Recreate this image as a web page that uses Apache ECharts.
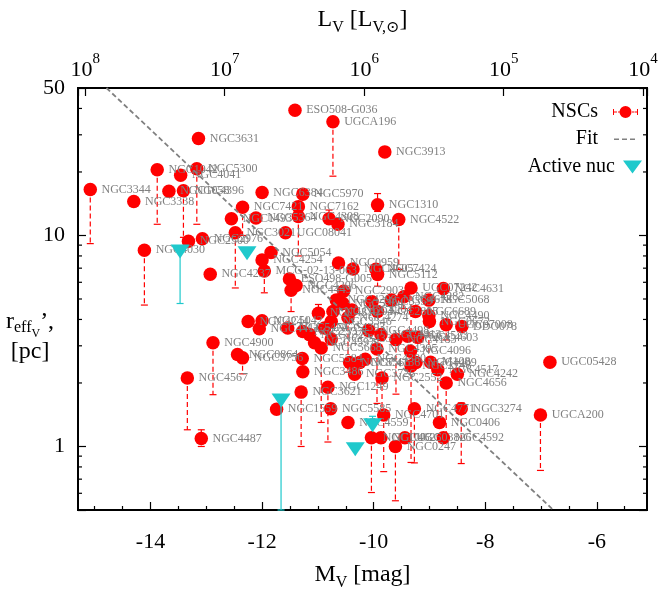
<!DOCTYPE html>
<html>
<head>
<meta charset="utf-8">
<script src="https://cdn.jsdelivr.net/npm/echarts@6/dist/echarts.min.js"></script>
<style>
html,body{margin:0;padding:0;background:#fff;}
#main{width:663px;height:596px;}
</style>
</head>
<body>
<div id="main"></div>
<script>
// NSC 数据: 名称, M_V, r_eff, 误差下限, 误差上限
var nscName = ['NGC3631','NGC1042','NGC5300','NGC4041','NGC3344','NGC1058','NGC4396','NGC3338','NGC6384','NGC7421',
    'NGC1493','NGC5364','NGC3021','ESO508-G036','UGCA196','NGC3913','NGC1310','NGC4522','NGC5970','NGC7162',
    'NGC4308','NGC2090','NGC3184','UGC08041','NGC2500','NGC2976','NGC4030','NGC4237','NGC4254','MCG-02-13-063',
    'NGC5054','NGC4244','NGC5042','NGC4411','NGC4900','NGC0864','NGC3756','NGC4567','NGC4487','NGC1559',
    'NGC5584','NGC3486','NGC3621','NGC1249','NGC5585','NGC4559','NGC3726','NGC4380','NGC5566','NGC4136',
    'NGC4395','NGC2552','NGC4701','NGC1003','NGC4625','NGC0247','UGC03826','NGC4771','NGC4096','NGC2748',
    'NGC4409','NGC4517','M108','NGC4242','NGC0406','NGC4592','UGC05428','NGC4656','NGC3274','UGCA200',
    'NGC0959','NGC4605','NGC7424','NGC5112','ESO498-G005','NGC4206','NGC4449','NGC2903','UGC07242','NGC4631',
    'NGC4282','NGC4618','NGC5068','NGC3359','NGC4299','NGC5204','NGC4204','NGC2805','NGC6689','NGC4490',
    'NGC0672','UGC07008','DDO078','NGC4310','NGC4294','NGC3346','NGC4274','NGC4393','NGC5474','NGC2337',
    'NGC1325','NGC4597','NGC5668','NGC3433','NGC4498','NGC4413','NGC4183','NGC4523','NGC4603'];
var nscMv = [-13.14,-13.88,-13.17,-13.46,-15.08,-13.67,-13.41,-14.30,-12.00,-12.35,
    -12.55,-12.11,-12.48,-11.41,-10.73,-9.80,-9.93,-9.55,-11.27,-11.35,
    -11.35,-10.80,-10.64,-11.58,-13.32,-13.07,-14.11,-12.93,-12.00,-11.96,
    -11.84,-12.25,-12.00,-12.05,-12.88,-12.44,-12.35,-13.34,-13.09,-11.74,
    -11.28,-11.27,-11.30,-10.82,-10.77,-10.46,-10.34,-10.15,-10.43,-10.25,
    -9.94,-9.85,-9.82,-10.04,-9.87,-9.61,-9.44,-9.27,-9.34,-9.33,
    -9.24,-8.85,-8.98,-8.50,-8.82,-8.75,-6.84,-8.70,-8.43,-7.01,
    -10.63,-10.37,-9.96,-9.93,-11.51,-11.39,-11.48,-10.54,-9.33,-8.75,
    -9.46,-9.68,-9.01,-10.03,-10.67,-10.55,-10.39,-9.93,-9.25,-9.01,
    -9.00,-8.70,-8.42,-10.99,-10.73,-10.76,-10.46,-10.88,-11.54,-11.27,
    -11.15,-11.06,-10.94,-10.76,-10.09,-9.87,-9.60,-9.39,-9.21];
var nscR = [28.8,20.5,20.7,19.3,16.5,16.2,16.3,14.5,16.0,13.6,
    12.0,12.1,10.3,39.2,34.6,24.9,14.0,11.9,15.7,13.7,
    12.3,12.0,11.3,10.3,9.4,9.66,8.51,6.55,7.65,6.79,
    8.3,3.91,3.94,3.61,3.10,2.73,2.63,2.11,1.09,1.50,
    2.61,2.26,1.81,1.91,1.51,1.30,2.20,2.59,2.50,2.50,
    2.90,2.11,1.41,1.10,1.10,1.00,1.10,1.51,2.83,2.41,
    2.50,2.31,2.51,2.20,1.30,1.10,2.51,2.00,1.51,1.41,
    7.40,6.93,6.92,6.54,6.22,5.80,5.50,5.44,5.64,5.60,
    5.12,4.94,4.94,4.85,4.94,4.76,4.44,4.36,4.36,4.17,
    3.91,3.78,3.70,4.28,4.36,3.91,4.09,3.64,3.64,3.51,
    3.39,3.10,2.93,3.23,3.55,3.39,3.21,3.33,3.29];
var nscLo = [null,11.3,11.3,null,9.15,null,9.8,null,null,10.0,
    null,null,5.64,null,19.1,null,13.0,6.9,null,null,
    8.0,null,null,null,null,null,4.68,null,null,5.35,
    null,null,null,null,1.76,null,2.21,1.20,1.00,null,
    null,null,1.00,1.05,null,null,null,null,null,null,
    1.6,1.45,0.76,0.605,null,0.553,null,0.836,null,0.84,
    null,1.30,null,null,null,null,null,1.11,0.83,0.77,
    null,null,null,5.75,null,null,4.36,null,2.8,null,
    4.5,null,2.45,null,null,null,null,null,null,null,
    null,3.2,null,null,null,null,2.25,null,null,null,
    null,null,1.30,null,null,null,1.77,null,null];
var nscHi = [];
nscHi[16] = 15.8;
nscHi[21] = 13.2;
nscHi[38] = 1.20;
nscHi[68] = 1.61;
nscHi[93] = 4.71;

// 活动核
var agnMv = [-13.47, -12.27, -11.66, -10.02, -10.33];
var agnR = [8.40, 8.23, 1.65, 1.26, 0.97];
var agnLo = [4.76, null, 0.5, null, null];
var agnHi = [null, null, null, 1.39, null];

// 拟合线端点
var fitMv = [-14.79, -6.78];
var fitR = [50, 0.5];

// 坐标轴刻度
var xMajor = [-14, -12, -10, -8, -6];
var xMinor = [-15, -14.5, -13.5, -13, -12.5, -11.5, -11, -10.5, -9.5, -9, -8.5, -7.5, -7, -6.5, -5.5];
var yMinor = [0.6, 0.7, 0.8, 0.9, 2, 3, 4, 5, 6, 7, 8, 9, 20, 30, 40];

var xMin = -15.3, xMax = -5.1;
var yMin = 0.5, yMax = 50;
var sunMv = 4.83;
var serif = "'Liberation Serif','DejaVu Serif',serif";

// 误差棒
function errBar(color, dash) {
    return function (params, api) {
        var m = api.value(0);
        var a = api.coord([m, api.value(2)]);
        var b = api.coord([m, api.value(1)]);
        var st = { stroke: color, lineWidth: 1.2 };
        return {
            type: 'group',
            children: [
                { type: 'line', shape: { x1: a[0], y1: a[1], x2: b[0], y2: b[1] }, style: { stroke: color, lineWidth: 1.2, lineDash: dash } },
                { type: 'line', shape: { x1: a[0] - 3.5, y1: a[1], x2: a[0] + 3.5, y2: a[1] }, style: st },
                { type: 'line', shape: { x1: b[0] - 3.5, y1: b[1], x2: b[0] + 3.5, y2: b[1] }, style: st }
            ]
        };
    };
}

function errData(mv, r, lo, hi) {
    var out = [];
    for (var i = 0; i < mv.length; i++) {
        if (lo[i] == null && hi[i] == null) continue;
        out.push([mv[i], lo[i] == null ? r[i] : lo[i], hi[i] == null ? r[i] : hi[i]]);
    }
    return out;
}

var nscPts = [];
for (var i = 0; i < nscMv.length; i++) {
    nscPts.push({ name: nscName[i], value: [nscMv[i], nscR[i]] });
}
var agnPts = [];
for (var j = 0; j < agnMv.length; j++) {
    agnPts.push([agnMv[j], agnR[j]]);
}
var fitPts = [[fitMv[0], fitR[0]], [fitMv[1], fitR[1]]];

// 图例图标 (角上的小点只用来固定尺寸)
var corner = 'M0,0h0.01v0.01h-0.01z M44.99,12.99h0.01v0.01h-0.01z ';
var nscIcon = 'path://' + corner + 'M10,3.5h1v6h-1z M11,6h3v1h-3z M15,6h1.5v1h-1.5z M16.5,6.5a6,6 0 1,0 12,0a6,6 0 1,0 -12,0z M29,6h2v1h-2z M31.5,6h2.5v1h-2.5z M34,3.5h1v6h-1z';
var fitIcon = 'path://' + corner + 'M11,6h5v1.6h-5z M19,6h5v1.6h-5z M27,6h5v1.6h-5z';
var triIcon = 'path://M0,0h0.01v0.01h-0.01z M24.99,12.99h0.01v0.01h-0.01z M3,0h19l-9.5,13z';

var myChart = echarts.init(document.getElementById('main'));
var option = {
    animation: false,
    backgroundColor: '#fff',
    grid: { left: 78, right: 16, top: 88, bottom: 80, show: true, borderColor: '#000', borderWidth: 2 },
    legend: [{
        data: [
            { name: 'NSCs', icon: nscIcon, itemStyle: { color: '#ff0000', borderWidth: 0 } },
            { name: 'Fit', icon: fitIcon, itemStyle: { color: '#808080', borderWidth: 0 } }
        ],
        orient: 'vertical', align: 'right', right: 15, top: 102, padding: 0,
        itemWidth: 45, itemHeight: 13, itemGap: 7, iconRotate: 0, selectedMode: false,
        textStyle: { fontSize: 20, fontFamily: serif, color: '#000' }
    }, {
        data: [{ name: 'Active nuc', icon: triIcon, itemStyle: { color: '#1fc9cc', borderWidth: 0 } }],
        orient: 'vertical', align: 'right', right: 18, top: 157, padding: 0,
        itemWidth: 25, itemHeight: 13, iconRotate: 0, selectedMode: false,
        textStyle: { fontSize: 20, fontFamily: serif, color: '#000' }
    }],
    xAxis: [{
        type: 'value', min: xMin, max: xMax, position: 'bottom',
        axisLine: { show: false },
        axisTick: { inside: true, length: 8, customValues: xMajor, lineStyle: { color: '#000', width: 1.2 } },
        axisLabel: { customValues: xMajor, fontSize: 22, fontFamily: serif, color: '#000', margin: 21 },
        splitLine: { show: false },
        name: '{m|M}{s|V}{m| [mag]}', nameLocation: 'middle', nameGap: 53,
        nameTextStyle: {
            rich: {
                m: { fontSize: 24, fontFamily: serif, color: '#000', verticalAlign: 'top' },
                s: { fontSize: 16, fontFamily: serif, color: '#000', verticalAlign: 'top', padding: [12, 0, 0, 0] }
            }
        }
    }, {
        type: 'value', min: xMin, max: xMax, position: 'bottom',
        axisLine: { show: false },
        axisTick: { inside: true, length: 4, customValues: xMinor, lineStyle: { color: '#000', width: 1.2 } },
        axisLabel: { show: false },
        splitLine: { show: false }
    }, {
        // 上方光度轴 L_V = 10^((4.83 - M_V)/2.5)
        type: 'log', logBase: 10, position: 'top', inverse: true,
        min: Math.pow(10, (sunMv - xMax) / 2.5), max: Math.pow(10, (sunMv - xMin) / 2.5),
        axisLine: { show: false },
        axisTick: { inside: true, length: 8, lineStyle: { color: '#000', width: 1.2 } },
        axisLabel: {
            margin: 7,
            formatter: function (v) {
                var e = Math.log10(v);
                if (Math.abs(e - Math.round(e)) > 0.001) return '';
                return '{b|10}{p|' + Math.round(e) + '}';
            },
            rich: {
                b: { fontSize: 22, fontFamily: serif, color: '#000', verticalAlign: 'bottom' },
                p: { fontSize: 15, fontFamily: serif, color: '#000', verticalAlign: 'top', padding: [0, 0, 14, 0] }
            }
        },
        splitLine: { show: false },
        name: '{m|L}{s|V}{m| [L}{s|V,⊙}{m|]}', nameLocation: 'middle', nameGap: 52,
        nameTextStyle: {
            rich: {
                m: { fontSize: 24, fontFamily: serif, color: '#000', verticalAlign: 'top' },
                s: { fontSize: 16, fontFamily: serif, color: '#000', verticalAlign: 'top', padding: [12, 0, 0, 0] }
            }
        }
    }],
    yAxis: [{
        type: 'log', logBase: 10, min: yMin, max: yMax, position: 'left',
        axisLine: { show: false },
        axisTick: { inside: true, length: 8, lineStyle: { color: '#000', width: 1.2 } },
        axisLabel: {
            fontSize: 22, fontFamily: serif, color: '#000', margin: 13,
            formatter: function (v) {
                if (Math.abs(v - 1) < 0.01 || Math.abs(v - 10) < 0.01 || Math.abs(v - 50) < 0.1) return String(Math.round(v));
                return '';
            }
        },
        splitLine: { show: false }
    }, {
        type: 'log', logBase: 10, min: yMin, max: yMax, position: 'right',
        axisLine: { show: false },
        axisTick: { inside: true, length: 8, lineStyle: { color: '#000', width: 1.2 } },
        axisLabel: { show: false },
        splitLine: { show: false }
    }],
    graphic: [{
        type: 'text', left: 6, top: 310,
        style: {
            text: '{m|r}{s|eff}{t|V}{m|’,}\n{m|[pc]}',
            align: 'center',
            rich: {
                m: { fontSize: 24, fontFamily: serif, fill: '#000', align: 'center', verticalAlign: 'top' },
                s: { fontSize: 16, fontFamily: serif, fill: '#000', verticalAlign: 'top', padding: [10, 0, 0, 0] },
                t: { fontSize: 12, fontFamily: serif, fill: '#000', verticalAlign: 'top', padding: [18, 0, 0, 0] }
            }
        }
    }],
    series: [{
        // 小刻度 (左右两侧)
        type: 'custom', silent: true, z: 5,
        data: yMinor.map(function (v) { return [xMin, v]; }),
        encode: { x: 0, y: 1 },
        renderItem: function (params, api) {
            var p = api.coord([xMin, api.value(1)]);
            var q = api.coord([xMax, api.value(1)]);
            var st = { stroke: '#000', lineWidth: 1.2 };
            return {
                type: 'group', children: [
                    { type: 'line', shape: { x1: p[0], y1: p[1], x2: p[0] + 4, y2: p[1] }, style: st },
                    { type: 'line', shape: { x1: q[0] - 4, y1: q[1], x2: q[0], y2: q[1] }, style: st }
                ]
            };
        }
    }, {
        type: 'custom', silent: true, z: 1,
        data: errData(nscMv, nscR, nscLo, nscHi),
        encode: { x: 0, y: [1, 2] },
        renderItem: errBar('#ff0000', [5, 3])
    }, {
        name: 'NSCs', type: 'scatter', z: 2,
        symbol: 'circle', symbolSize: 13.5,
        itemStyle: { color: '#ff0000', opacity: 1 },
        label: { show: true, position: 'right', distance: 4.5, formatter: '{b}', color: '#808080', fontSize: 12, fontFamily: serif },
        data: nscPts
    }, {
        name: 'Fit', type: 'line', z: 4, symbol: 'none', silent: true,
        color: '#808080',
        lineStyle: { color: '#808080', width: 1.8, type: [5, 3] },
        data: fitPts
    }, {
        type: 'custom', silent: true, z: 3,
        data: errData(agnMv, agnR, agnLo, agnHi),
        encode: { x: 0, y: [1, 2] },
        renderItem: errBar('#1fc9cc', null)
    }, {
        name: 'Active nuc', type: 'scatter', z: 3,
        symbol: 'path://M0,0L20,0L10,14Z', symbolSize: [19, 14],
        itemStyle: { color: '#1fc9cc', opacity: 1 },
        data: agnPts
    }]
};
myChart.setOption(option);
</script>
</body>
</html>
